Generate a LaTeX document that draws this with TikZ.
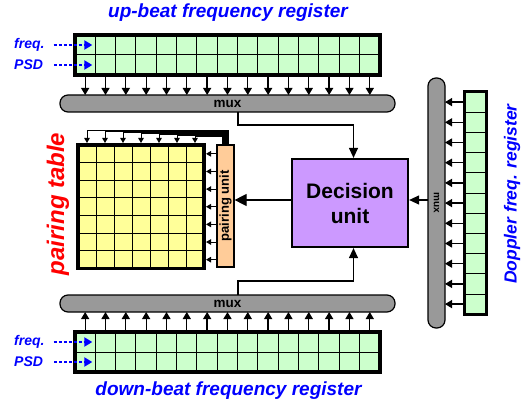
\documentclass[tikz,border=0pt]{standalone}
\usepackage{fontspec}
\setmainfont{Liberation Sans}
\usetikzlibrary{arrows.meta,calc}

\definecolor{cellgreen}{HTML}{CCFFCC}
\definecolor{tableyellow}{HTML}{FFFF99}
\definecolor{decpurple}{HTML}{CC99FF}
\definecolor{unitpeach}{HTML}{FFCC99}
\definecolor{muxgray}{HTML}{999999}

\tikzset{
  gcell/.style={draw,fill=cellgreen,line width=1pt,inner sep=0pt,outer sep=0pt,
    minimum width=20.33pt,minimum height=20pt},
  ycell/.style={draw,fill=tableyellow,line width=1pt,inner sep=0pt,outer sep=0pt,
    minimum width=18pt,minimum height=17.64pt},
  muxbar/.style={draw,fill=muxgray,line width=1.2pt,rounded corners=8pt,inner sep=0pt,
    outer sep=0pt,minimum height=17pt,font=\bfseries\fontsize{13.5}{14}\selectfont},
  busarr/.style={-{Triangle[length=7pt,width=8pt]},line width=1.3pt},
  smallarr/.style={-{Triangle[length=5pt,width=5.5pt]},line width=1pt},
  medarr/.style={-{Triangle[length=10pt,width=9pt]},line width=1.2pt},
  bigarr/.style={-{Triangle[length=12pt,width=12pt]},line width=1.2pt},
  dasharr/.style={-{Triangle[length=8pt,width=9pt]},draw=blue,line width=2pt,
    dash pattern=on 3pt off 2pt},
  bluelbl/.style={text=blue,inner sep=0pt,font=\bfseries\itshape\fontsize{14}{16}\selectfont},
  regtitle/.style={text=blue,font=\bfseries\itshape\fontsize{19}{22}\selectfont},
}

\begin{document}
\begin{tikzpicture}[x=1pt,y=-1pt]
\useasboundingbox (0,0) rectangle (531,404);

% up-beat register
\foreach \i in {1,...,15}{
  \node[gcell] (up-\i-1) at ({75+20.33*(\i-0.5)},45) {};
  \node[gcell] (up-\i-2) at ({75+20.33*(\i-0.5)},65) {};
}
\draw[line width=3.5pt] (up-1-1.north west) rectangle (up-15-2.south east);
\node[regtitle] (uptitle) at (228,13) {up-beat frequency register};
\node[bluelbl,anchor=west] (ufreq) at (14,45) {freq.};
\node[bluelbl,anchor=west] (upsd) at (14,65) {PSD};
\draw[dasharr] ([xshift=9pt]ufreq.east) -- ($(ufreq.east -| up-1-1.east)+(-3,0)$);
\draw[dasharr] ([xshift=11pt]upsd.east) -- ($(upsd.east -| up-1-2.east)+(-3,0)$);
\node[muxbar,minimum width=335pt] (muxup) at (227.5,103.5) {mux};
\foreach \i in {1,...,15}
  \draw[busarr] (up-\i-2.south) -- (up-\i-2.south |- muxup.north);

% down-beat register
\foreach \i in {1,...,15}{
  \node[gcell] (dn-\i-1) at ({75+20.33*(\i-0.5)},342) {};
  \node[gcell] (dn-\i-2) at ({75+20.33*(\i-0.5)},362) {};
}
\draw[line width=3.5pt] (dn-1-1.north west) rectangle (dn-15-2.south east);
\node[regtitle] (dntitle) at (228.5,391) {down-beat frequency register};
\node[bluelbl,anchor=west] (dfreq) at (14,342) {freq.};
\node[bluelbl,anchor=west] (dpsd) at (14,362) {PSD};
\draw[dasharr] ([xshift=9pt]dfreq.east) -- ($(dfreq.east -| dn-1-1.east)+(-3,0)$);
\draw[dasharr] ([xshift=11pt]dpsd.east) -- ($(dpsd.east -| dn-1-2.east)+(-3,0)$);
\node[muxbar,minimum width=335pt] (muxdn) at (227.5,303.5) {mux};
\foreach \i in {1,...,15}
  \draw[busarr] (dn-\i-1.north) -- (dn-\i-1.north |- muxdn.south);

% Doppler register
\foreach \j in {1,...,11}
  \node[gcell,minimum width=22pt,minimum height=20.2pt] (dop-\j) at (475,{92+20.2*(\j-0.5)}) {};
\draw[line width=3pt] (dop-1.north west) rectangle (dop-11.south east);
\node[muxbar,rotate=-90,minimum width=250pt,font=\bfseries\fontsize{10}{11}\selectfont]
  (muxdop) at (436.5,203) {mux};
\foreach \j in {1,...,11}
  \draw[busarr] (dop-\j.west) -- (dop-\j.west -| muxdop.north);
\node[rotate=90,text=blue,font=\bfseries\itshape\fontsize{17.5}{20}\selectfont]
  (doplbl) at (512,194) {Doppler freq. register};

% decision unit
\node[draw,fill=decpurple,line width=2.2pt,minimum width=116pt,minimum height=88pt,
  align=center,font=\bfseries\fontsize{21}{25}\selectfont] (dec) at (350,203) {Decision\\unit};
\draw[medarr] ([xshift=10.5pt]muxup.south) -- ++(0,13) -| ([xshift=3.5pt]dec.north);
\draw[medarr] ([xshift=10.5pt]muxdn.north) -- ++(0,-14) -| ([xshift=3.5pt]dec.south);
\draw[medarr] ($(muxdop.south)+(0,-3)$) -- ($(dec.east)+(0,-3)$);

% pairing table
\foreach \i in {1,...,7}
  \foreach \j in {1,...,7}
    \node[ycell] (pt-\i-\j) at ({78+18*(\i-0.5)},{145+17.64*(\j-0.5)}) {};
\draw[line width=3.5pt] (pt-1-1.north west) rectangle (pt-7-7.south east);
\node[rotate=90,text=red,font=\bfseries\itshape\fontsize{24}{28}\selectfont]
  (ptlbl) at (58,204) {pairing table};

% pairing unit
\node[draw,fill=unitpeach,line width=1.2pt,rotate=90,minimum width=122pt,minimum height=17pt,
  inner sep=0pt,font=\bfseries\fontsize{13}{14}\selectfont] (punit) at (225.5,206) {pairing unit};
\foreach \j in {1,...,7}
  \draw[smallarr] (pt-7-\j.east -| punit.north) -- ([xshift=2pt]pt-7-\j.east);
\foreach \i [evaluate=\i as \dx using 3.5-\i, evaluate=\i as \dy using \i-15] in {1,...,7}
  \draw[smallarr] ([xshift=\dx pt]punit.east) -- ++(0,\dy) -| ([yshift=2pt]pt-\i-1.north);
\draw[bigarr] ($(dec.west)+(0,-3)$) -- ($(dec.west -| punit.south)+(0,-3)$);
\end{tikzpicture}
\end{document}
